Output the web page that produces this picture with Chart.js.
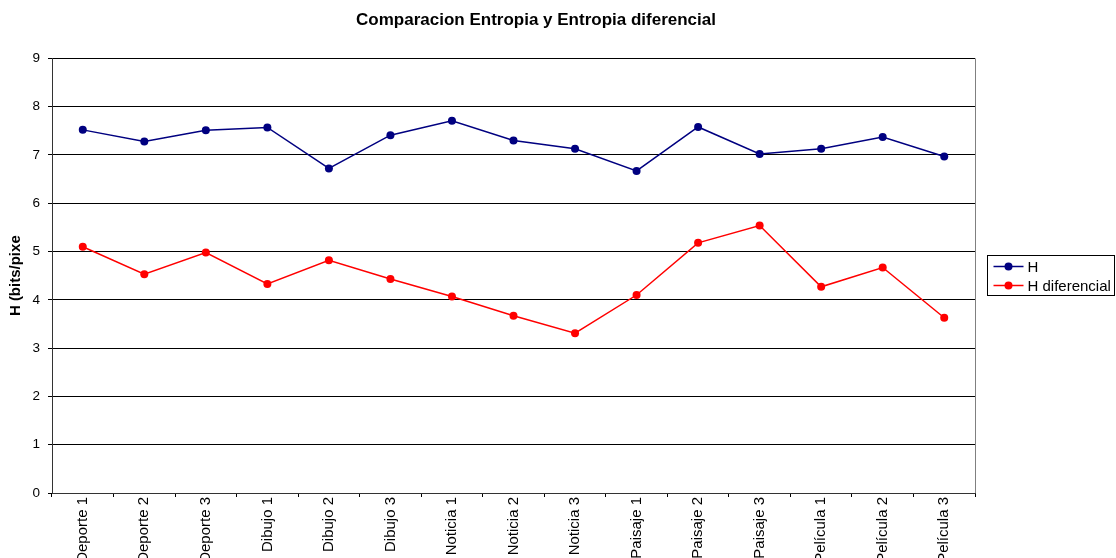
<!DOCTYPE html>
<html>
<head>
<meta charset="utf-8">
<title>Comparacion Entropia y Entropia diferencial</title>
<script src="https://cdn.jsdelivr.net/npm/chart.js@4/dist/chart.umd.min.js"></script>
<style>
  html, body { margin: 0; padding: 0; background: #fff; overflow: hidden; }
  #wrap { width: 1116px; height: 558px; }
</style>
</head>
<body>
<div id="wrap"><canvas id="myChart"></canvas></div>
<script>
// imagenes de prueba
const categorias = [
  "Deporte 1", "Deporte 2", "Deporte 3",
  "Dibujo 1", "Dibujo 2", "Dibujo 3",
  "Noticia 1", "Noticia 2", "Noticia 3",
  "Paisaje 1", "Paisaje 2", "Paisaje 3",
  "Película 1", "Película 2", "Película 3",
];

// entropia (bits/pixel)
const entropia = [7.52, 7.28, 7.51, 7.57, 6.72, 7.41, 7.71, 7.30, 7.13, 6.67, 7.58, 7.02, 7.13, 7.37, 6.97];
const entropiaDif = [5.10, 4.53, 4.98, 4.33, 4.82, 4.43, 4.07, 3.67, 3.31, 4.10, 5.18, 5.54, 4.27, 4.67, 3.63];

const yMin = 0;
const yMax = 9;
const yPaso = 1;

const fuente = "'Liberation Sans', Arial, sans-serif";

// borde gris del area de trazado + leyenda con recuadro
const marcoPlugin = {
  id: "marco",
  beforeDatasetsDraw(chart) {
    const { ctx, chartArea: a } = chart;
    ctx.save();
    ctx.strokeStyle = "#808080";
    ctx.lineWidth = 1;
    ctx.beginPath();
    ctx.moveTo(Math.round(a.right) + 0.5, a.top);
    ctx.lineTo(Math.round(a.right) + 0.5, a.bottom);
    ctx.stroke();
    ctx.restore();
  },
  afterDraw(chart) {
    const { ctx, chartArea: a } = chart;
    const x = Math.round(a.right) + 12.5;
    const mid = Math.round((a.top + a.bottom) / 2);
    const y = mid - 20.5;
    ctx.save();
    ctx.strokeStyle = "#000";
    ctx.lineWidth = 1;
    ctx.strokeRect(x, y, 127, 40);
    ctx.font = "15px " + fuente;
    ctx.textBaseline = "middle";
    chart.data.datasets.forEach((ds, i) => {
      const fy = y + 11 + i * 19;
      ctx.strokeStyle = ds.borderColor;
      ctx.lineWidth = 1.5;
      ctx.beginPath();
      ctx.moveTo(x + 6, fy);
      ctx.lineTo(x + 36, fy);
      ctx.stroke();
      ctx.fillStyle = ds.backgroundColor;
      ctx.beginPath();
      ctx.arc(x + 21, fy, 4, 0, Math.PI * 2);
      ctx.fill();
      ctx.fillStyle = "#000";
      ctx.fillText(ds.label, x + 40, fy + 1);
    });
    ctx.restore();
  },
};

const ctx = document.getElementById("myChart").getContext("2d");
const chart = new Chart(ctx, {
  type: "line",
  data: {
    labels: categorias,
    datasets: [
      {
        label: "H",
        data: entropia,
        borderColor: "#000080",
        backgroundColor: "#000080",
        borderWidth: 1.5,
        pointRadius: 4,
        pointBorderWidth: 0,
        tension: 0,
      },
      {
        label: "H diferencial",
        data: entropiaDif,
        borderColor: "#ff0000",
        backgroundColor: "#ff0000",
        borderWidth: 1.5,
        pointRadius: 4,
        pointBorderWidth: 0,
        tension: 0,
      },
    ],
  },
  options: {
    responsive: true,
    maintainAspectRatio: false,
    animation: false,
    layout: { padding: { left: 0, right: 44, top: 0, bottom: 0 } },
    plugins: {
      legend: { display: false },
      tooltip: { enabled: false },
      title: {
        display: true,
        text: "Comparacion Entropia y Entropia diferencial",
        color: "#000",
        font: { family: fuente, size: 17, weight: "bold" },
        padding: { top: 10, bottom: 28 },
      },
    },
    scales: {
      x: {
        offset: true,
        grid: { display: true, drawOnChartArea: false, offset: true, tickLength: 4, color: "#000" },
        border: { color: "#333" },
        ticks: {
          color: "#000",
          minRotation: 90,
          maxRotation: 90,
          padding: 0,
          autoSkip: false,
          font: { family: fuente, size: 15 },
        },
        afterFit(s) { s.height = 65; },
      },
      y: {
        min: yMin,
        max: yMax,
        grid: { color: "#000", tickLength: 4 },
        border: { color: "#333" },
        ticks: {
          stepSize: yPaso,
          color: "#000",
          padding: 8,
          font: { family: fuente, size: 13.5 },
        },
        title: {
          display: true,
          text: "H (bits/pixe",
          color: "#000",
          font: { family: fuente, size: 15, weight: "bold" },
          padding: { top: 7, bottom: 0 },
        },
        afterFit(s) { s.width = 52; },
      },
      derecha: {
        position: "right",
        display: true,
        grid: { display: false },
        border: { display: false },
        ticks: { display: false },
        afterFit(s) { s.width = 97; },
      },
    },
  },
  plugins: [marcoPlugin],
});
</script>
</body>
</html>
